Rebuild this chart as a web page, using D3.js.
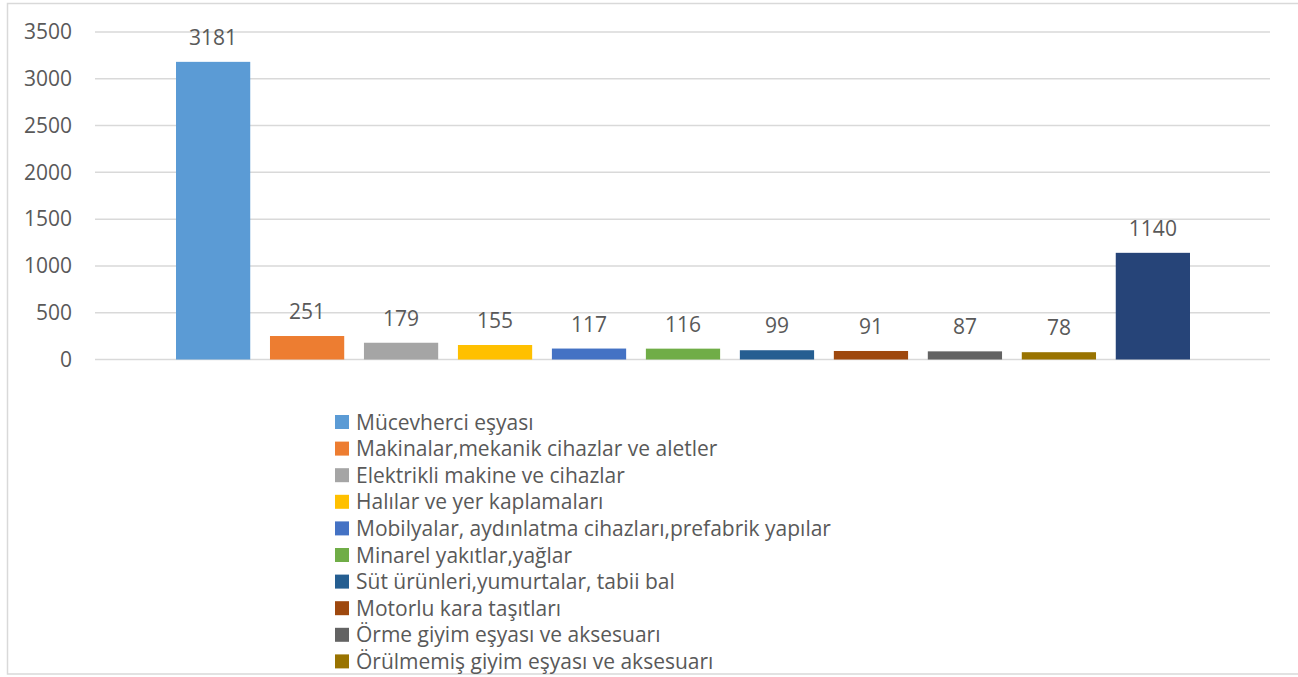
<!DOCTYPE html>
<meta charset="utf-8">
<style>
  body { margin: 0; background: #fff; }
  text { font-family: "Open Sans", "Noto Sans", sans-serif; fill: #595959; }
  .grid line { stroke: #d9d9d9; stroke-width: 1.5; }
</style>
<body>
<script src="https://cdnjs.cloudflare.com/ajax/libs/d3/7.8.5/d3.min.js"></script>
<script>

// data
var series = ['Mücevherci eşyası', 'Makinalar,mekanik cihazlar ve aletler', 'Elektrikli makine ve cihazlar',
  'Halılar ve yer kaplamaları', 'Mobilyalar, aydınlatma cihazları,prefabrik yapılar', 'Minarel yakıtlar,yağlar',
  'Süt ürünleri,yumurtalar, tabii bal', 'Motorlu kara taşıtları', 'Örme giyim eşyası ve aksesuarı',
  'Örülmemiş giyim eşyası ve aksesuarı', 'Diğer'];
var values = [3181, 251, 179, 155, 117, 116, 99, 91, 87, 78, 1140];
var yTicks = [0, 500, 1000, 1500, 2000, 2500, 3000, 3500];
var colors = ['#5B9BD5', '#ED7D31', '#A5A5A5', '#FFC000', '#4472C4', '#70AD47',
  '#255E91', '#9E480E', '#636363', '#997300', '#264478'];
// legend shows the first ten series only (the last one falls outside the frame)
var legendItems = series.slice(0, 10);

var width = 1298, height = 677;

var svg = d3.select('body').append('svg').attr('width', width).attr('height', height);

// chart border (no right edge visible)
svg.append('path')
  .attr('d', 'M' + (width + 5) + ',3.5 H7.5 V674 H' + (width + 5))
  .attr('fill', 'none').attr('stroke', '#d9d9d9').attr('stroke-width', 1.5);

var y = d3.scaleLinear().domain([0, 3500]).range([359.5, 32]);
var x = d3.scaleBand().domain(series).range([176, 1190]).paddingInner(0.21).paddingOuter(0);
var color = d3.scaleOrdinal().domain(series).range(colors);

var grid = svg.append('g').attr('class', 'grid');
grid.selectAll('line').data(yTicks).enter().append('line')
  .attr('x1', 95).attr('x2', 1270)
  .attr('y1', function (d) { return y(d); }).attr('y2', function (d) { return y(d); });

var yAxis = d3.axisLeft(y).tickValues(yTicks).tickFormat(d3.format('d')).tickSize(0).tickPadding(0);
svg.append('g').attr('transform', 'translate(72,0)').call(yAxis)
  .call(function (g) { g.select('.domain').remove(); })
  .selectAll('text').style('font-size', '21px').attr('fill', '#595959')
  .style('font-family', '"Open Sans", sans-serif');

svg.append('g').selectAll('rect').data(values).enter().append('rect')
  .attr('x', function (d, i) { return x(series[i]); })
  .attr('width', x.bandwidth())
  .attr('y', function (d) { return y(d); })
  .attr('height', function (d) { return y(0) - y(d); })
  .attr('fill', function (d, i) { return color(series[i]); });

svg.append('g').selectAll('text').data(values).enter().append('text')
  .attr('x', function (d, i) { return x(series[i]) + x.bandwidth() / 2; })
  .attr('y', function (d) { return y(d) - 17; })
  .attr('text-anchor', 'middle')
  .style('font-size', '21px')
  .text(function (d) { return d; });

// legend
var legend = svg.append('g')
  .selectAll('g').data(legendItems).enter().append('g')
  .attr('transform', function (d, i) { return 'translate(335,' + (415 + i * 26.6) + ')'; });

legend.append('rect').attr('width', 14).attr('height', 14)
  .attr('fill', function (d) { return color(d); });
legend.append('text').attr('x', 21).attr('y', 7).attr('dy', '0.36em')
  .style('font-size', '21px')
  .text(function (d) { return d; });

</script>
</body>
